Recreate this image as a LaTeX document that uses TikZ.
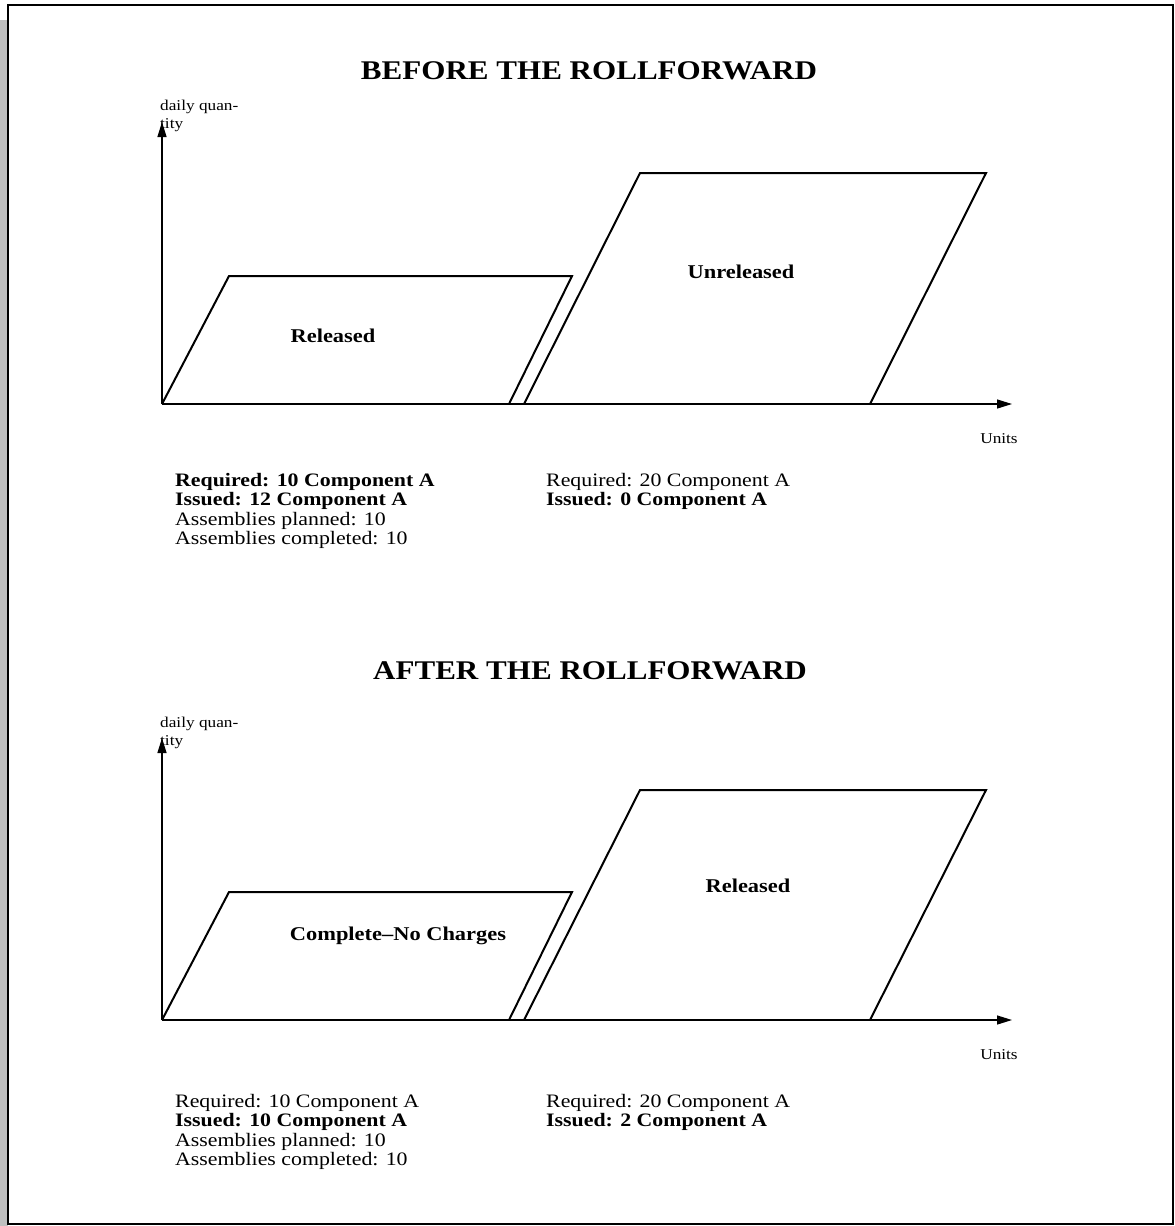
\documentclass[tikz,border=0pt]{standalone}
\usepackage{fontspec}
\setmainfont{Liberation Serif}[FakeStretch=1.15]
\usetikzlibrary{arrows.meta}
\tikzset{
  frame/.style={draw=black,line width=2pt},
  axis/.style={line width=1.3pt,-{Triangle[length=15pt,width=9pt]}},
  para/.style={draw=black,line width=2pt,line join=miter},
  title/.style={font=\fontsize{27}{30}\selectfont\bfseries,anchor=base,inner sep=0pt},
  axlabel/.style={font=\fontsize{15}{18}\selectfont,anchor=base west,inner sep=0pt},
  shlabel/.style={font=\fontsize{19.5}{22}\selectfont\bfseries,inner sep=0pt},
  txt/.style={font=\fontsize{19}{19.5}\selectfont,anchor=base west,inner sep=0pt},
  btxt/.style={txt,font=\fontsize{19}{19.5}\selectfont\bfseries}
}
\begin{document}
\begin{tikzpicture}[x=1pt,y=-1pt]
\useasboundingbox (0,0) rectangle (1175,1226);
\fill[white] (0,0) rectangle (1175,1226);
\fill[black!25] (0,20) rectangle (8,1226);
\draw[frame,fill=white] (8,5) rectangle (1173,1224);

% ===== BEFORE =====
\node[title] (t1) at (589,79) {BEFORE THE ROLLFORWARD};
\coordinate (o1) at (162,404);
\coordinate (ytip1) at (162,122);
\coordinate (xtip1) at (1012,404);
\draw[axis] (o1) -- (ytip1);
\draw[axis] (o1) -- (xtip1);
\node[axlabel] (dq1) at (160,110) {daily quan-};
\node[axlabel] (dq1b) at (160,128) {tity};
\node[axlabel,anchor=base] (u1) at (999,443) {Units};
\draw[para] (162,404) -- (229,276) -- (572,276) -- (509,404);
\draw[para] (524,404) -- (640,173) -- (986,173) -- (870,404);
\node[shlabel] (rel1) at (333,336) {Released};
\node[shlabel] (unrel1) at (741,272) {Unreleased};

\node[btxt] (a1) at (175,486) {Required: 10 Component A};
\node[btxt] (a2) at (175,505.5) {Issued: 12 Component A};
\node[txt] (a3) at (175,525) {Assemblies planned: 10};
\node[txt] (a4) at (175,544.5) {Assemblies completed: 10};
\node[txt] (b1) at (546,486) {Required: 20 Component A};
\node[btxt] (b2) at (546,505.5) {Issued: 0 Component A};

% ===== AFTER =====
\node[title] (t2) at (590,679) {AFTER THE ROLLFORWARD};
\coordinate (o2) at (162,1020);
\coordinate (ytip2) at (162,738);
\coordinate (xtip2) at (1012,1020);
\draw[axis] (o2) -- (ytip2);
\draw[axis] (o2) -- (xtip2);
\node[axlabel] (dq2) at (160,727) {daily quan-};
\node[axlabel] (dq2b) at (160,745) {tity};
\node[axlabel,anchor=base] (u2) at (999,1059) {Units};
\draw[para] (162,1020) -- (229,892) -- (572,892) -- (509,1020);
\draw[para] (524,1020) -- (640,790) -- (986,790) -- (870,1020);
\node[shlabel] (cnc2) at (398,936) {Complete–No Charges};
\node[shlabel] (rel2) at (748,886) {Released};

\node[txt] (c1) at (175,1107) {Required: 10 Component A};
\node[btxt] (c2) at (175,1126.5) {Issued: 10 Component A};
\node[txt] (c3) at (175,1146) {Assemblies planned: 10};
\node[txt] (c4) at (175,1165.5) {Assemblies completed: 10};
\node[txt] (d1) at (546,1107) {Required: 20 Component A};
\node[btxt] (d2) at (546,1126.5) {Issued: 2 Component A};
\end{tikzpicture}
\end{document}
